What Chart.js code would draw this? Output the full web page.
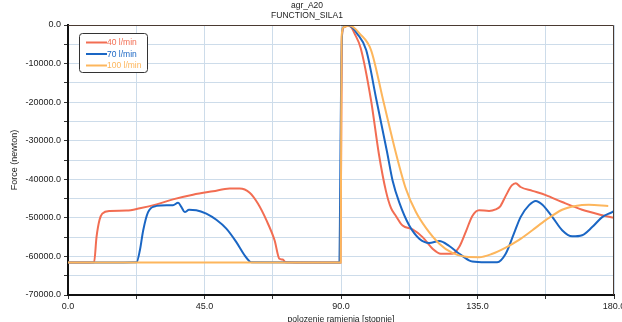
<!DOCTYPE html>
<html>
<head>
<meta charset="utf-8">
<script src="https://cdn.jsdelivr.net/npm/chart.js@4/dist/chart.umd.min.js"></script>
<style>
  html, body { margin: 0; padding: 0; background: #fff; }
  #wrap { width: 622px; height: 322px; }
</style>
</head>
<body>
<div id="wrap"><canvas id="forceChart"></canvas></div>
<script>
const seriesNames = ['40 l/min', '70 l/min', '100 l/min'];

// angle [deg] / force [N]
const angle40 = [0, 8.6, 9.4, 10.4, 11.3, 13.8, 19.3, 23.7, 29.2, 34.6, 41.2, 47.8, 53.3, 56.6, 59.9, 62.6, 65.4, 68.1, 69.7, 70.8, 71.7,
    89.8, 90.0, 90.3, 91.0, 92.3, 93.5, 94.4, 96.5, 99.9, 102.5, 104.8, 106.5, 108.1, 110.3, 113.6, 116.9, 120.2, 122.9, 126.7,
    129.0, 131.2, 133.3, 135.5, 138.8, 141.0, 142.5, 144.3, 146.3, 147.6, 149.2, 153.1, 157.5, 162.9, 169.5, 176.1, 180.0];
const force40 = [-61600, -61500, -55000, -50500, -48900, -48200, -48100, -47500, -46500, -45200, -44000, -43100, -42400, -42400, -43500, -46300, -50600, -55800, -60600, -60800, -61500,
    -61600, -40000, -3000, -600, -100, -700, -2100, -6000, -19500, -33500, -43000, -47500, -49500, -52000, -53000, -55000, -58000, -59300, -59300,
    -57500, -53500, -49500, -48000, -48200, -47800, -47000, -44300, -41600, -41000, -42000, -43000, -44100, -45900, -47900, -49300, -50000];

const angle70 = [0, 22.6, 23.7, 24.8, 26.4, 29.2, 32.5, 34.6, 36.3, 37.4, 38.5, 39.9, 42.3, 45.6, 48.9, 52.2, 55.5, 58.2, 59.9, 60.6,
    89.5, 89.7, 90.1, 90.6, 91.5, 92.5, 93.8, 95.2, 98.3, 101.7, 105.2, 107.0, 109.2, 112.5, 115.8, 119.1, 122.4, 125.7, 129.0, 132.2, 133.3,
    137.7, 141.5, 144.3, 147.0, 149.2, 152.0, 154.2, 156.4, 159.7, 162.9, 166.2, 169.5, 172.8, 176.1, 179.4, 180.0];
const force70 = [-61600, -61500, -58400, -53200, -48500, -46900, -46700, -46700, -46100, -47200, -48500, -47900, -48000, -48900, -50500, -52800, -56300, -59700, -61300, -61500,
    -61600, -45000, -10000, -700, -300, -100, -700, -2100, -6500, -19500, -33000, -40300, -46000, -52000, -55400, -56500, -56000, -57300, -59300, -61000, -61300,
    -61500, -61500, -59300, -54100, -49800, -46700, -45600, -46600, -49800, -53200, -54800, -54500, -52400, -49800, -48500, -48200];

const angle100 = [0, 89.9, 90.0, 90.2, 91.0, 92.8, 94.3, 96.0, 99.9, 103.9, 108.2, 111.4, 114.7, 118.0, 122.4, 126.7, 131.2, 135.5, 139.9,
    144.3, 148.7, 153.1, 157.5, 162.9, 167.3, 171.7, 178.1];
const force100 = [-61600, -61600, -40000, -3000, -500, -100, -700, -2100, -6500, -19500, -33500, -42500, -48500, -52600, -56700, -59100, -60100, -60200, -59300,
    -57700, -55700, -53200, -50600, -47900, -46900, -46600, -46900];

const xTicks = { min: 0, max: 180, step: 22.5, labelEvery: 45 };
const yTicks = { min: -70000, max: 0, step: 5000, labelEvery: 10000 };

const colors = ['#f26d52', '#1a66c4', '#fdb65c'];

function toPoints(xs, ys) {
    return xs.map((x, i) => ({ x: x, y: ys[i] }));
}

const fontFamily = "'Liberation Sans', Arial, sans-serif";

// frame on top and right, like the original plot box
const framePlugin = {
    id: 'frame',
    afterDraw(chart) {
        const { ctx, chartArea: a } = chart;
        ctx.save();
        ctx.strokeStyle = '#4a3a32';
        ctx.lineWidth = 1;
        ctx.beginPath();
        ctx.moveTo(a.left, a.top + 0.5);
        ctx.lineTo(a.right - 0.5, a.top + 0.5);
        ctx.lineTo(a.right - 0.5, a.bottom);
        ctx.stroke();
        ctx.restore();
    }
};

// small boxed legend inside the plot
const boxLegend = {
    id: 'boxLegend',
    afterDraw(chart) {
        const ctx = chart.ctx;
        const x0 = 79.5, y0 = 33.5, w = 68, h = 39;
        ctx.save();
        ctx.fillStyle = '#fff';
        ctx.strokeStyle = '#333';
        ctx.lineWidth = 1;
        ctx.beginPath();
        ctx.roundRect(x0, y0, w, h, 3);
        ctx.fill();
        ctx.stroke();
        ctx.font = '8.5px ' + fontFamily;
        ctx.textBaseline = 'middle';
        chart.data.datasets.forEach((ds, i) => {
            const y = 42.5 + i * 11.5;
            ctx.strokeStyle = ds.borderColor;
            ctx.lineWidth = 2;
            ctx.beginPath();
            ctx.moveTo(86, y);
            ctx.lineTo(107, y);
            ctx.stroke();
            ctx.fillStyle = ds.borderColor;
            ctx.fillText(ds.label, 107, y + 0.5);
        });
        ctx.restore();
    }
};

const ctx = document.getElementById('forceChart').getContext('2d');
new Chart(ctx, {
    type: 'line',
    data: {
        datasets: [
            { label: seriesNames[0], data: toPoints(angle40, force40), borderColor: colors[0], order: 3 },
            { label: seriesNames[1], data: toPoints(angle70, force70), borderColor: colors[1], order: 2 },
            { label: seriesNames[2], data: toPoints(angle100, force100), borderColor: colors[2], order: 1 }
        ]
    },
    options: {
        responsive: true,
        maintainAspectRatio: false,
        animation: false,
        layout: { padding: { left: 0, right: 8, top: 0, bottom: 0 } },
        elements: {
            point: { radius: 0 },
            line: { borderWidth: 2, cubicInterpolationMode: 'monotone', fill: false }
        },
        plugins: {
            legend: { display: false },
            tooltip: { enabled: false },
            title: {
                display: true,
                text: ['agr_A20', 'FUNCTION_SILA1'],
                color: '#222',
                font: { family: fontFamily, size: 8.5, weight: 'normal', lineHeight: 1.25 },
                padding: { top: 0, bottom: 3.75 }
            }
        },
        scales: {
            x: {
                type: 'linear',
                min: xTicks.min,
                max: xTicks.max,
                afterFit(scale) {
                    scale.height = 27;
                    scale.paddingRight = 0;
                    scale.paddingLeft = 0;
                },
                ticks: {
                    stepSize: xTicks.step,
                    autoSkip: false,
                    maxRotation: 0,
                    padding: 2,
                    color: '#222',
                    font: { family: fontFamily, size: 9 },
                    callback: v => (v % xTicks.labelEvery === 0 ? v.toFixed(1) : '')
                },
                grid: { color: '#cddcea', tickLength: 4, tickColor: '#333', lineWidth: 1 },
                border: { color: '#111', width: 2 },
                title: {
                    display: true,
                    text: 'polozenie ramienia [stopnie]',
                    color: '#222',
                    font: { family: fontFamily, size: 8.6, lineHeight: 1.0 },
                    padding: { top: 0, bottom: -2 }
                }
            },
            y: {
                min: yTicks.min,
                max: yTicks.max,
                afterFit(scale) { scale.width = 68; },
                ticks: {
                    stepSize: yTicks.step,
                    autoSkip: false,
                    padding: 3,
                    color: '#222',
                    font: { family: fontFamily, size: 9 },
                    callback: v => (v % yTicks.labelEvery === 0 ? v.toFixed(1) : '')
                },
                grid: { color: '#cddcea', tickLength: 4, tickColor: '#333', lineWidth: 1 },
                border: { color: '#111', width: 2 },
                title: {
                    display: true,
                    text: 'Force (newton)',
                    color: '#222',
                    font: { family: fontFamily, size: 9, lineHeight: 1.2 },
                    padding: { top: 9.6, bottom: 0 }
                }
            }
        }
    },
    plugins: [framePlugin, boxLegend]
});
</script>
</body>
</html>
